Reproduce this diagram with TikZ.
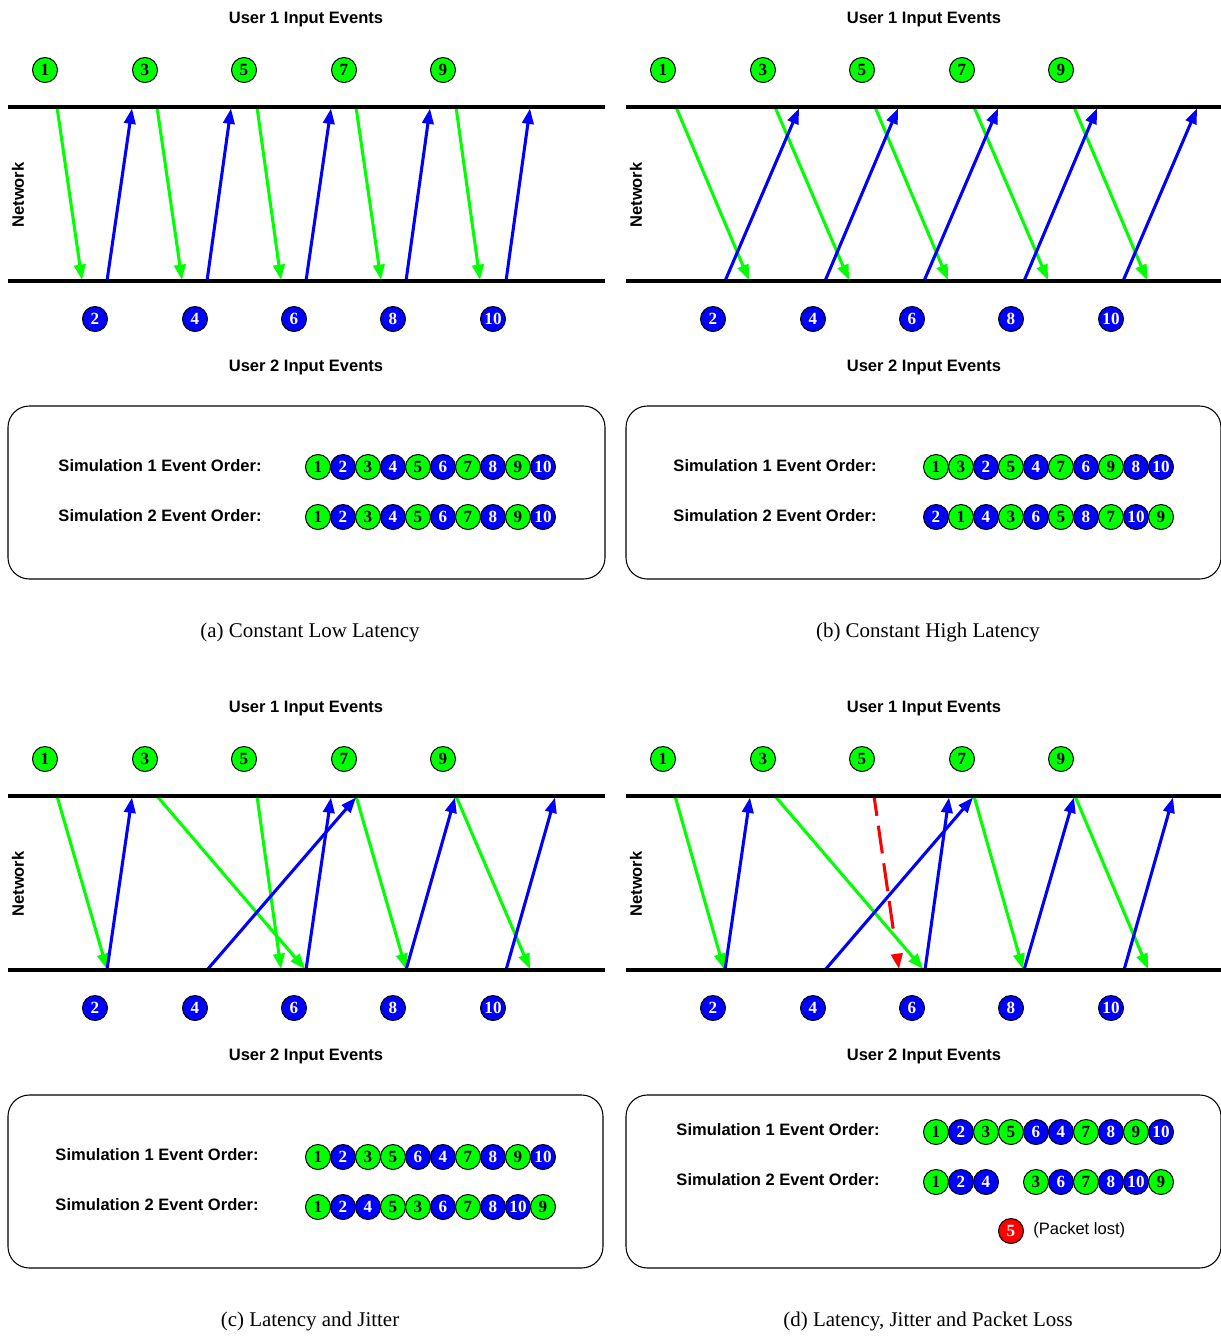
\documentclass[tikz,border=0pt]{standalone}
\usepackage{fontspec}
\setmainfont{Liberation Serif}
\setsansfont{Liberation Sans}
\usetikzlibrary{arrows.meta,calc}

\definecolor{evgreen}{RGB}{0,255,0}
\definecolor{evblue}{RGB}{0,0,255}
\definecolor{evred}{RGB}{255,0,0}

\tikzset{
  labeltext/.style={font=\sffamily\bfseries\fontsize{12.4}{14}\selectfont, inner sep=0pt},
  plaintext/.style={font=\sffamily\fontsize{12.4}{14}\selectfont, inner sep=0pt},
  caption/.style={font=\fontsize{15.7}{18}\selectfont, inner sep=0pt},
  ball/.style={circle, draw=black, line width=0.75pt, minimum size=18.75pt,
               inner sep=0pt, font=\bfseries\fontsize{12.8}{14}\selectfont},
  ballg/.style={ball, fill=evgreen, text=black},
  ballb/.style={ball, fill=evblue, text=white},
  ballr/.style={ball, fill=evred, text=white},
  lane/.style={line width=2.6pt, black},
  msg/.style={line width=2.3pt, -{Triangle[length=11.5pt,width=8.5pt]}},
  gmsg/.style={msg, evgreen},
  bmsg/.style={msg, evblue},
  lostline/.style={line width=2.3pt, evred, dash pattern=on 21pt off 7.5pt, dash phase=6pt},
  losttip/.style={line width=2.3pt, evred, -{Triangle[length=11.5pt,width=8.5pt]}},
  simbox/.style={draw=black, line width=0.8pt, rounded corners=16pt},
}

% Timeline frame of one panel: event balls, network lanes, labels, result box
\newcommand{\lanes}[1]{%
  \node[labeltext] (u1) at (306,20) {User 1 Input Events};
  \foreach \n/\x in {1/45,3/145,5/244,7/344,9/443} {\node[ballg] (e\n) at (\x,70) {\n};}
  \foreach \n/\x in {2/95,4/195,6/294,8/393,10/493} {\node[ballb] (e\n) at (\x,319) {\n};}
  \node[labeltext, rotate=90] (net) at (18,195) {Network};
  \node[labeltext] (u2) at (306,367) {User 2 Input Events};
  \draw[simbox] (8,406) rectangle (#1,579);
}
% Lane lines, drawn over the message arrows
\newcommand{\lanelines}{%
  \coordinate (tl) at (8,107); \coordinate (tr) at (605,107);
  \coordinate (bl) at (8,281); \coordinate (br) at (605,281);
  \draw[lane] (tl) -- (tr);
  \draw[lane] (bl) -- (br);
}
% User 1 messages: from the top lane down to the bottom lane
\newcommand{\greenmsgs}[1]{%
  \foreach \n/\xs/\xe in {#1} {
    \coordinate (m\n s) at (\xs,107); \coordinate (m\n e) at (\xe,280);
    \draw[gmsg] (m\n s) -- (m\n e);}
}
% User 2 messages: from the bottom lane up to the top lane
\newcommand{\bluemsgs}[1]{%
  \foreach \n/\xs/\xe in {#1} {
    \coordinate (m\n s) at (\xs,281); \coordinate (m\n e) at (\xe,108.5);
    \draw[bmsg] (m\n s) -- (m\n e);}
}
% One row of ordered events: index/number/colour
\newcommand{\simrow}[3]{%
  \foreach \k/\n/\c in {#3} {\node[ball\c] (r#1-\k) at ({318+25*\k},#2) {\n};}
}

\begin{document}
\begin{tikzpicture}[x=0.75pt, y=-0.75pt]
\useasboundingbox (0,0) rectangle (1221,1336);

% (a) constant low latency
\begin{scope}[name prefix=a-]
  \lanes{605}
  \greenmsgs{1/57/82, 3/157/182, 5/257/281, 7/356/381, 9/456/480}
  \bluemsgs{2/107/132, 4/207/231, 6/306/331, 8/406/430, 10/506/530}
  \lanelines
  \node[labeltext] (s1) at (160,466) {Simulation 1 Event Order:};
  \node[labeltext] (s2) at (160,516) {Simulation 2 Event Order:};
  \simrow{1}{467}{0/1/g,1/2/b,2/3/g,3/4/b,4/5/g,5/6/b,6/7/g,7/8/b,8/9/g,9/10/b}
  \simrow{2}{517}{0/1/g,1/2/b,2/3/g,3/4/b,4/5/g,5/6/b,6/7/g,7/8/b,8/9/g,9/10/b}
  \node[caption] (cap) at (310,632) {(a) Constant Low Latency};
\end{scope}

% (b) constant high latency
\begin{scope}[shift={(618,0)}, name prefix=b-]
  \lanes{603}
  \greenmsgs{1/58/131, 3/157/231, 5/257/330, 7/356/430, 9/456/529}
  \bluemsgs{2/107/181, 4/207/280, 6/306/380, 8/406/479, 10/505/579}
  \lanelines
  \node[labeltext] (s1) at (157,466) {Simulation 1 Event Order:};
  \node[labeltext] (s2) at (157,516) {Simulation 2 Event Order:};
  \simrow{1}{467}{0/1/g,1/3/g,2/2/b,3/5/g,4/4/b,5/7/g,6/6/b,7/9/g,8/8/b,9/10/b}
  \simrow{2}{517}{0/2/b,1/1/g,2/4/b,3/3/g,4/6/b,5/5/g,6/8/b,7/7/g,8/10/b,9/9/g}
  \node[caption] (cap) at (310,632) {(b) Constant High Latency};
\end{scope}

% (c) latency and jitter
\begin{scope}[shift={(0,689)}, name prefix=c-]
  \lanes{603}
  \greenmsgs{1/57/107, 3/157/305, 5/257/281, 7/356/406, 9/456/530}
  \bluemsgs{2/107/132, 4/207/356, 6/306/331, 8/406/455, 10/506/555}
  \lanelines
  \node[labeltext] (s1) at (157,466) {Simulation 1 Event Order:};
  \node[labeltext] (s2) at (157,516) {Simulation 2 Event Order:};
  \simrow{1}{468}{0/1/g,1/2/b,2/3/g,3/5/g,4/6/b,5/4/b,6/7/g,7/8/b,8/9/g,9/10/b}
  \simrow{2}{518}{0/1/g,1/2/b,2/4/b,3/5/g,4/3/g,5/6/b,6/7/g,7/8/b,8/10/b,9/9/g}
  \node[caption] (cap) at (310,632) {(c) Latency and Jitter};
\end{scope}

% (d) latency, jitter and packet loss
\begin{scope}[shift={(618,689)}, name prefix=d-]
  \lanes{603}
  \greenmsgs{1/57/106, 3/157/305, 7/356/405, 9/457/530}
  \coordinate (m5s) at (256,107); \coordinate (m5e) at (281,280);
  \draw[lostline] (m5s) -- ($(m5s)!0.78!(m5e)$);
  \draw[losttip] ($(m5e)!11.5pt!(m5s)$) -- (m5e);
  \bluemsgs{2/107/132, 4/207/355, 6/307/331, 8/406/456, 10/506/555}
  \lanelines
  \node[labeltext] (s1) at (160,441) {Simulation 1 Event Order:};
  \node[labeltext] (s2) at (160,491) {Simulation 2 Event Order:};
  \simrow{1}{443}{0/1/g,1/2/b,2/3/g,3/5/g,4/6/b,5/4/b,6/7/g,7/8/b,8/9/g,9/10/b}
  \simrow{2}{493}{0/1/g,1/2/b,2/4/b,4/3/g,5/6/b,6/7/g,7/8/b,8/10/b,9/9/g}
  \node[ballr] (lost) at (393,542) {5};
  \node[plaintext, anchor=west] (lostlbl) at (415,541) {(Packet lost)};
  \node[caption] (cap) at (310,632) {(d) Latency, Jitter and Packet Loss};
\end{scope}
\end{tikzpicture}
\end{document}
